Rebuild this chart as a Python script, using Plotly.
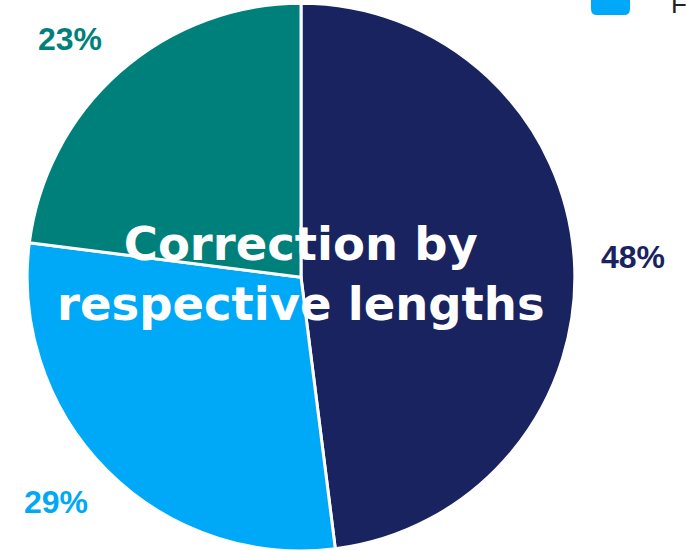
import math
import plotly.graph_objects as go

labels = ["Unique", "Fragmented", "Multi-mapped"]
values = [48, 29, 23]
colors = ["#18235F", "#00A9F7", "#00807A"]
center_title = "Correction by<br>respective lengths"
legend_label = "Fragmented reads"

W, H = 687, 551
dom_x = [0.0393, 0.837]
dom_y = [0.0, 0.994]

fig = go.Figure(go.Pie(
    labels=labels, values=values, sort=False, direction="clockwise", rotation=0,
    marker=dict(colors=colors, line=dict(color="white", width=3)),
    textinfo="none", hoverinfo="label+percent", showlegend=False,
    domain=dict(x=dom_x, y=dom_y),
))

# pie geometry in pixels (from domain)
cx = (dom_x[0] + dom_x[1]) / 2 * W
cy = (dom_y[0] + dom_y[1]) / 2 * H
R = min((dom_x[1] - dom_x[0]) * W, (dom_y[1] - dom_y[0]) * H) / 2

total = sum(values)
cum = 0
for v, c in zip(values, colors):
    mid = (cum + v / 2) / total * 2 * math.pi
    cum += v
    px = cx + R * 1.09 * math.sin(mid)
    py = cy + R * 1.16 * math.cos(mid)
    fig.add_annotation(
        x=px / W, y=py / H, xref="paper", yref="paper",
        text=f"{round(v / total * 100)}%", showarrow=False,
        font=dict(family="Liberation Sans, Arial", size=32, color=c, weight="bold"),
        xanchor="left" if math.sin(mid) >= 0 else "right", yanchor="middle",
    )

fig.add_annotation(
    x=cx / W, y=1 - 274 / H, xref="paper", yref="paper",
    text=center_title, showarrow=False,
    font=dict(family="DejaVu Sans", size=46.5, color="white", weight="bold"),
    xanchor="center", yanchor="middle", align="center",
)

# partially visible legend entry (top right)
fig.add_shape(
    type="path", xref="paper", yref="paper",
    path="M {x0},{y0} L {x1},{y0} L {x1},{y2} Q {x1},{y1} {x3},{y1} L {x4},{y1} Q {x0},{y1} {x0},{y2} Z".format(
        x0=591 / W, x1=630 / W, y0=1 + 3 / H, y1=1 - 15 / H, y2=1 - 9 / H,
        x3=(630 - 6) / W, x4=(591 + 6) / W),
    fillcolor=colors[1], line=dict(width=0),
)
fig.add_annotation(
    x=669 / W, y=1 - 4 / H, xref="paper", yref="paper", text=legend_label,
    showarrow=False, xanchor="left", yanchor="middle",
    font=dict(family="Liberation Sans, Arial", size=26, color="#222222"),
)

fig.update_layout(
    width=W, height=H, margin=dict(l=0, r=0, t=0, b=0),
    paper_bgcolor="white", plot_bgcolor="white",
)
fig.write_html("out.html", config={"displayModeBar": False},
               post_script="document.body.style.margin='0';")
